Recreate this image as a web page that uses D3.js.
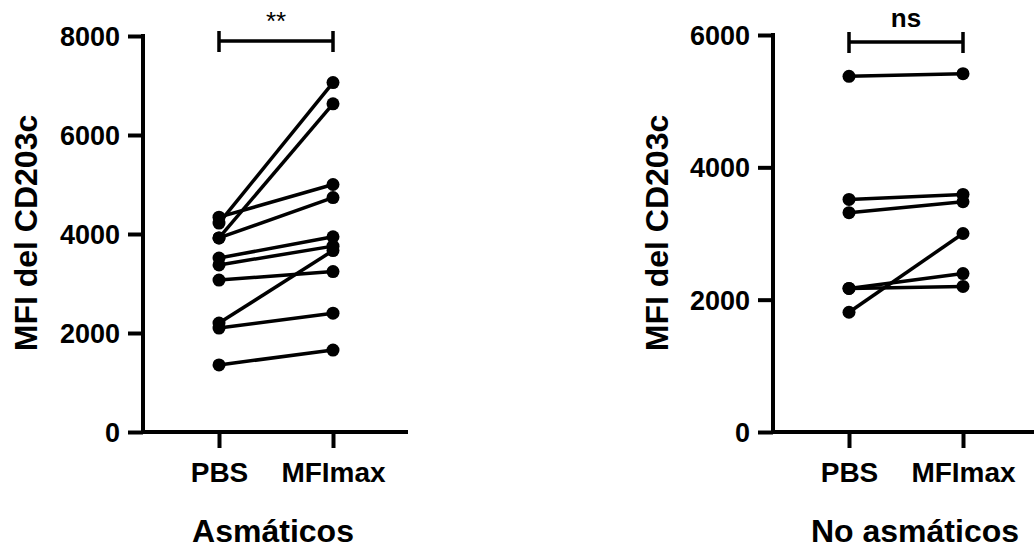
<!DOCTYPE html>
<html>
<head>
<meta charset="utf-8">
<script src="https://cdn.jsdelivr.net/npm/d3@7"></script>
<style>
  body { margin: 0; background: #fff; }
  text { font-family: "Liberation Sans", Arial, sans-serif; }
</style>
</head>
<body>
<div id="chart"></div>
<script>
var svgWidth = 1034;
var svgHeight = 550;

// conditions on the x axis
var conditions = ["PBS", "MFImax"];

// asthmatic group, one entry per subject
var asmPBS = [4340, 4220, 3920, 3920, 3515, 3375, 3070, 2200, 2100, 1355];
var asmMax = [5000, 7060, 6630, 4735, 3945, 3755, 3240, 3665, 2400, 1655];

// non asthmatic group
var noPBS = [5375, 3515, 3315, 1810, 2170, 2170];
var noMax = [5415, 3590, 3480, 3000, 2395, 2200];

var asmTicks = [0, 2000, 4000, 6000, 8000];
var noTicks = [0, 2000, 4000, 6000];

var svg = d3.select("#chart")
  .append("svg")
  .attr("width", svgWidth)
  .attr("height", svgHeight);

function drawPanel(opts) {
  var g = svg.append("g");

  var x = d3.scalePoint()
    .domain(conditions)
    .range([opts.axisX + 76, opts.axisX + 190]);

  var y = d3.scaleLinear()
    .domain([0, opts.max])
    .range([432, opts.top]);

  // y axis
  var yAxis = g.append("g")
    .attr("transform", "translate(" + opts.axisX + ",0)")
    .call(d3.axisLeft(y).tickValues(opts.ticks).tickFormat(d3.format("d"))
      .tickSize(15).tickPadding(8).tickSizeOuter(0));
  yAxis.select(".domain").attr("stroke-width", 4).attr("d", "M0," + (432 + 2) + "V" + (opts.top - 2));
  yAxis.selectAll(".tick line").attr("stroke-width", 4);
  yAxis.selectAll(".tick text")
    .attr("font-size", 27)
    .attr("font-weight", "bold")
    .attr("fill", "#000")
    .attr("dy", "0.35em");

  // x axis
  var xAxis = g.append("g")
    .attr("transform", "translate(0,432)")
    .call(d3.axisBottom(x).tickSize(16).tickPadding(14).tickSizeOuter(0));
  xAxis.select(".domain").attr("stroke-width", 4).attr("d", "M" + (opts.axisX - 2) + ",0H" + (opts.axisX + 265));
  xAxis.selectAll(".tick line").attr("stroke-width", 4);
  xAxis.selectAll(".tick text")
    .attr("font-size", 28)
    .attr("font-weight", "bold")
    .attr("fill", "#000")
    .attr("dy", "0.71em");

  // paired lines
  var pairs = opts.pbs.map(function(v, i) {
    return [{c: "PBS", v: v}, {c: "MFImax", v: opts.mx[i]}];
  });

  var line = d3.line()
    .x(function(d) { return x(d.c); })
    .y(function(d) { return y(d.v); });

  g.selectAll(".pair")
    .data(pairs)
    .enter()
    .append("path")
    .attr("d", line)
    .attr("fill", "none")
    .attr("stroke", "#000")
    .attr("stroke-width", 3.5);

  g.selectAll(".dot")
    .data(d3.merge(pairs))
    .enter()
    .append("circle")
    .attr("cx", function(d) { return x(d.c); })
    .attr("cy", function(d) { return y(d.v); })
    .attr("r", 6.5)
    .attr("fill", "#000");

  // significance bracket
  var x1 = x("PBS"), x2 = x("MFImax");
  var by = opts.barY;
  g.append("path")
    .attr("d", "M" + x1 + "," + by + "H" + x2 + "M" + x1 + "," + (by - 10) + "V" + (by + 11) + "M" + x2 + "," + (by - 10) + "V" + (by + 11))
    .attr("fill", "none")
    .attr("stroke", "#000")
    .attr("stroke-width", 3.5);

  g.append("text")
    .attr("x", (x1 + x2) / 2)
    .attr("y", opts.sigY)
    .attr("text-anchor", "middle")
    .attr("font-size", opts.sigSize)
    .attr("font-weight", opts.sigWeight)
    .text(opts.sig);

  // y label
  g.append("text")
    .attr("transform", "translate(" + opts.labelX + ",233) rotate(-90)")
    .attr("text-anchor", "middle")
    .attr("font-size", 32)
    .attr("font-weight", "bold")
    .text("MFI del CD203c");

  // group title
  g.append("text")
    .attr("x", opts.titleX)
    .attr("y", 542)
    .attr("text-anchor", "middle")
    .attr("font-size", 32)
    .attr("font-weight", "bold")
    .text(opts.title);
}

drawPanel({
  axisX: 143, max: 8000, top: 36, ticks: asmTicks,
  pbs: asmPBS, mx: asmMax,
  barY: 41, sig: "**", sigY: 30, sigSize: 26, sigWeight: "normal",
  labelX: 37, title: "Asmáticos", titleX: 273
});

drawPanel({
  axisX: 773, max: 6000, top: 35, ticks: noTicks,
  pbs: noPBS, mx: noMax,
  barY: 42, sig: "ns", sigY: 27, sigSize: 26, sigWeight: "bold",
  labelX: 668, title: "No asmáticos", titleX: 915
});
</script>
</body>
</html>
